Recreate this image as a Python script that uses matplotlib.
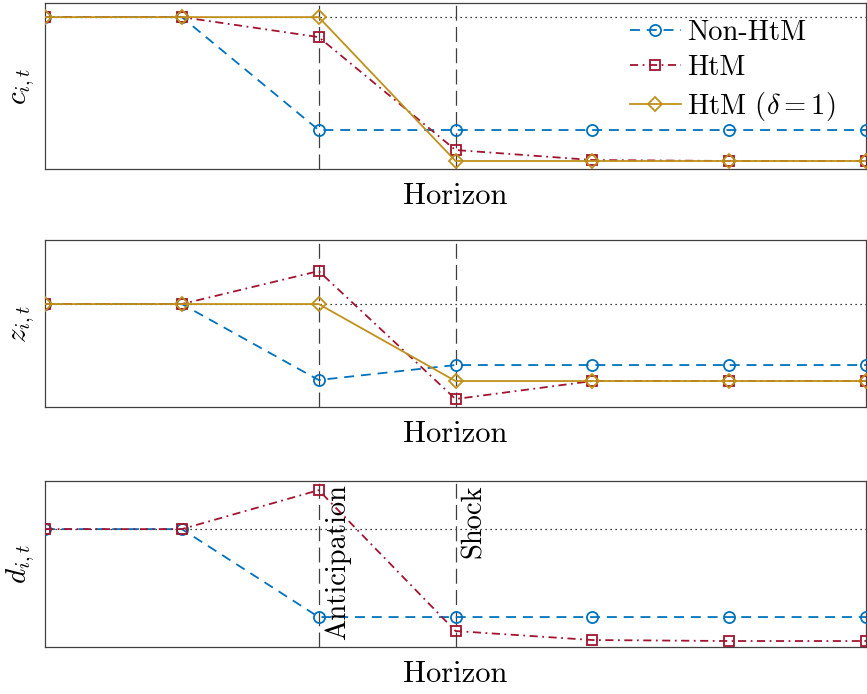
import matplotlib
matplotlib.use("Agg")
import matplotlib.pyplot as plt
import numpy as np

plt.rcParams['font.family'] = 'cmr10'
plt.rcParams['mathtext.fontset'] = 'cm'
plt.rcParams['axes.formatter.use_mathtext'] = True

# horizon and impulse responses (deviation from steady state)
horizon = np.arange(7)

c_nonhtm = [0, 0, -1.13, -1.13, -1.13, -1.13, -1.13]
c_htm = [0, 0, -0.20, -1.33, -1.43, -1.44, -1.44]
c_htm_d1 = [0, 0, 0, -1.44, -1.44, -1.44, -1.44]

z_nonhtm = [0, 0, -0.76, -0.61, -0.61, -0.61, -0.61]
z_htm = [0, 0, 0.33, -0.95, -0.77, -0.77, -0.77]
z_htm_d1 = [0, 0, 0, -0.77, -0.77, -0.77, -0.77]

d_nonhtm = [0, 0, -0.88, -0.88, -0.88, -0.88, -0.88]
d_htm = [0, 0, 0.39, -1.02, -1.11, -1.12, -1.12]

ylabels = [r'$c_{i,t}$', r'$z_{i,t}$', r'$d_{i,t}$']
ylims = [(-1.52, 0.14), (-1.03, 0.64), (-1.18, 0.48)]
events = [2, 3]
event_labels = ['Anticipation', 'Shock']

blue = '#0072BD'
red = '#A2142F'
gold = '#C0901A'

fig = plt.figure(figsize=(8.67, 6.94), dpi=100)
positions = [[0.0519, 0.7565, 0.947, 0.239],
             [0.0519, 0.4135, 0.947, 0.2406],
             [0.0519, 0.0677, 0.947, 0.239]]

panels = [
    [c_nonhtm, c_htm, c_htm_d1],
    [z_nonhtm, z_htm, z_htm_d1],
    [d_nonhtm, d_htm, None],
]

for k, (pos, series) in enumerate(zip(positions, panels)):
    ax = fig.add_axes(pos)
    ax.set_xlim(0, 6)
    ax.set_ylim(*ylims[k])
    ax.set_xticks([])
    ax.set_yticks([])
    for s in ax.spines.values():
        s.set_color('#404040')
        s.set_linewidth(0.9)

    ax.axhline(0, color='k', linestyle=(0, (1, 3)), linewidth=0.9, zorder=1)
    for ev in events:
        ax.axvline(ev, color='#404040', linewidth=0.9,
                   linestyle=(0, (12, 5)), zorder=1)

    nh, h, hd = series
    l1, = ax.plot(horizon, nh, color=blue, linewidth=1.3, dashes=(5.5, 3.8),
                  marker='o', markersize=8, markerfacecolor='none',
                  markeredgewidth=1.3, label='Non-HtM', zorder=3)
    l2, = ax.plot(horizon, h, color=red, linewidth=1.3,
                  dashes=(4.5, 2.5, 1, 2.5), marker='s', markersize=6.5,
                  markerfacecolor='none', markeredgewidth=1.3,
                  label='HtM', zorder=4)
    if hd is not None:
        l3, = ax.plot(horizon, hd, color=gold, linewidth=1.3,
                      marker='D', markersize=7.5, markerfacecolor='none',
                      markeredgewidth=1.3, label=r'HtM ($\delta=1$)',
                      zorder=5)

    ax.set_xlabel('Horizon', fontsize=22, labelpad=10)
    ax.set_ylabel(ylabels[k], fontsize=21, labelpad=6)

    if k == 0:
        ax.legend(handles=[l1, l2, l3], loc='upper right', frameon=False,
                  fontsize=20.5, labelspacing=0.32, handlelength=1.8,
                  handletextpad=0.2, borderaxespad=0.0,
                  bbox_to_anchor=(0.976, 0.97))
    if k == 2:
        for ev, lab in zip(events, event_labels):
            ax.text(ev + 0.04, ylims[k][1] - 0.03, lab, rotation=90,
                    ha='left', va='top', fontsize=20.5)

fig.savefig('out.png', dpi=100)
